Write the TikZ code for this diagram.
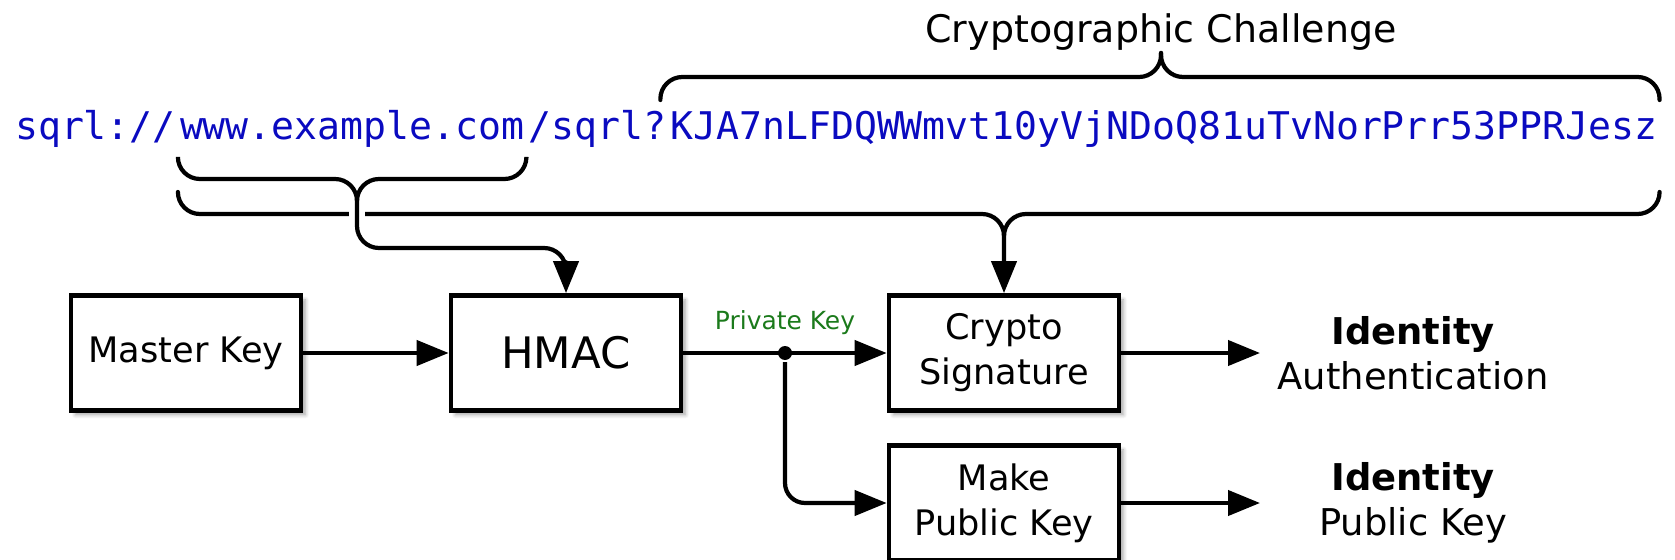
\documentclass[tikz,border=0pt]{standalone}
\usepackage{fontspec}
\setmainfont{DejaVu Sans}
\setmonofont{DejaVu Sans Mono}
\usepackage{tikz}
\usetikzlibrary{positioning,calc,arrows.meta,shadows.blur}
\definecolor{urlblue}{HTML}{0A0AC0}
\definecolor{keygreen}{HTML}{1B7A1B}

\begin{document}
\begin{tikzpicture}[x=0.02cm, y=-0.02cm, line width=2.4pt,
  >={Triangle[length=0.64cm, width=0.5cm]},
  block/.style={draw, line width=2.7pt, fill=white, minimum width=4.6cm, minimum height=2.3cm,
    align=center, font=\fontsize{20}{25.6}\selectfont,
    blur shadow={shadow xshift=2.5pt, shadow yshift=-2.5pt, shadow blur steps=6, shadow opacity=35}},
  url/.style={inner sep=0pt, anchor=base west, text=urlblue, font=\ttfamily\fontsize{21.7}{26}\selectfont},
  outlbl/.style={inner sep=0pt, align=center, font=\fontsize{21}{25.6}\selectfont},
  brace/.style={rounded corners=0.44cm, line cap=round}]
  \useasboundingbox (0,0) rectangle (1675,560);

  % SQRL url, split in its parts
  \node[url] (scheme) at (13,140) {sqrl://};
  \node[url] (host) at (scheme.base east) {www.example.com};
  \node[url] (query) at (host.base east) {/sqrl?};
  \node[url] (nonce) at (query.base east) {KJA7nLFDQWWmvt10yVjNDoQ81uTvNorPrr53PPRJesz};

  \node[font=\fontsize{21.6}{26}\selectfont] (chal) at (1161,32) {Cryptographic Challenge};

  % Blocks
  \node[block] (master) at (186,353) {Master Key};
  \node[block, font=\fontsize{24.7}{30}\selectfont] (hmac) at (566,353) {HMAC};
  \node[block] (sign) at (1004,353) {Crypto\\Signature};
  \node[block] (mkpub) at (1004,503) {Make\\Public Key};

  \node[outlbl] (auth) at (1413,353) {\textbf{Identity}\\Authentication};
  \node[outlbl] (pub) at (1413,503) {\textbf{Identity}\\Public Key};
  \coordinate (authend) at (1260,353);
  \coordinate (pubend) at (1260,503);

  % Braces
  \coordinate (cc) at (1161,53);
  \draw[brace] ($(nonce.west |- 0,100)+(-8,0)$) |- (cc |- 0,77) -- (cc);
  \draw[brace] (nonce.east |- 0,100) |- (cc |- 0,77) -- (cc);

  \coordinate (hosttip) at (357,179);
  \draw[brace, ->] (host.west |- 0,192) |- (sign.north |- 0,214) -- (sign.north);
  \draw[brace] (nonce.east |- 0,192) |- (sign.north |- 0,214) -- ++(0,20);
  \draw[draw=white, line width=9.5pt] (357,205) -- (357,223);
  \draw[brace, ->] (host.west |- 0,158) |- (hosttip) -- (357,248) -| (hmac.north);
  \draw[brace] (host.east |- 0,158) |- (hosttip) -- ++(0,20);

  % Key flow
  \draw[->] (master) -- (hmac);
  \draw[->] (hmac) -- (sign);
  \node[circle, fill, inner sep=0pt, minimum size=0.28cm] (pk) at (785,353) {};
  \node[text=keygreen, font=\fontsize{14.2}{16}\selectfont, above=0.02cm of pk] (pklbl) {Private Key};
  \draw[->, rounded corners=0.4cm] (pk) |- (mkpub);
  \draw[->] (sign) -- (authend);
  \draw[->] (mkpub) -- (pubend);
\end{tikzpicture}
\end{document}
